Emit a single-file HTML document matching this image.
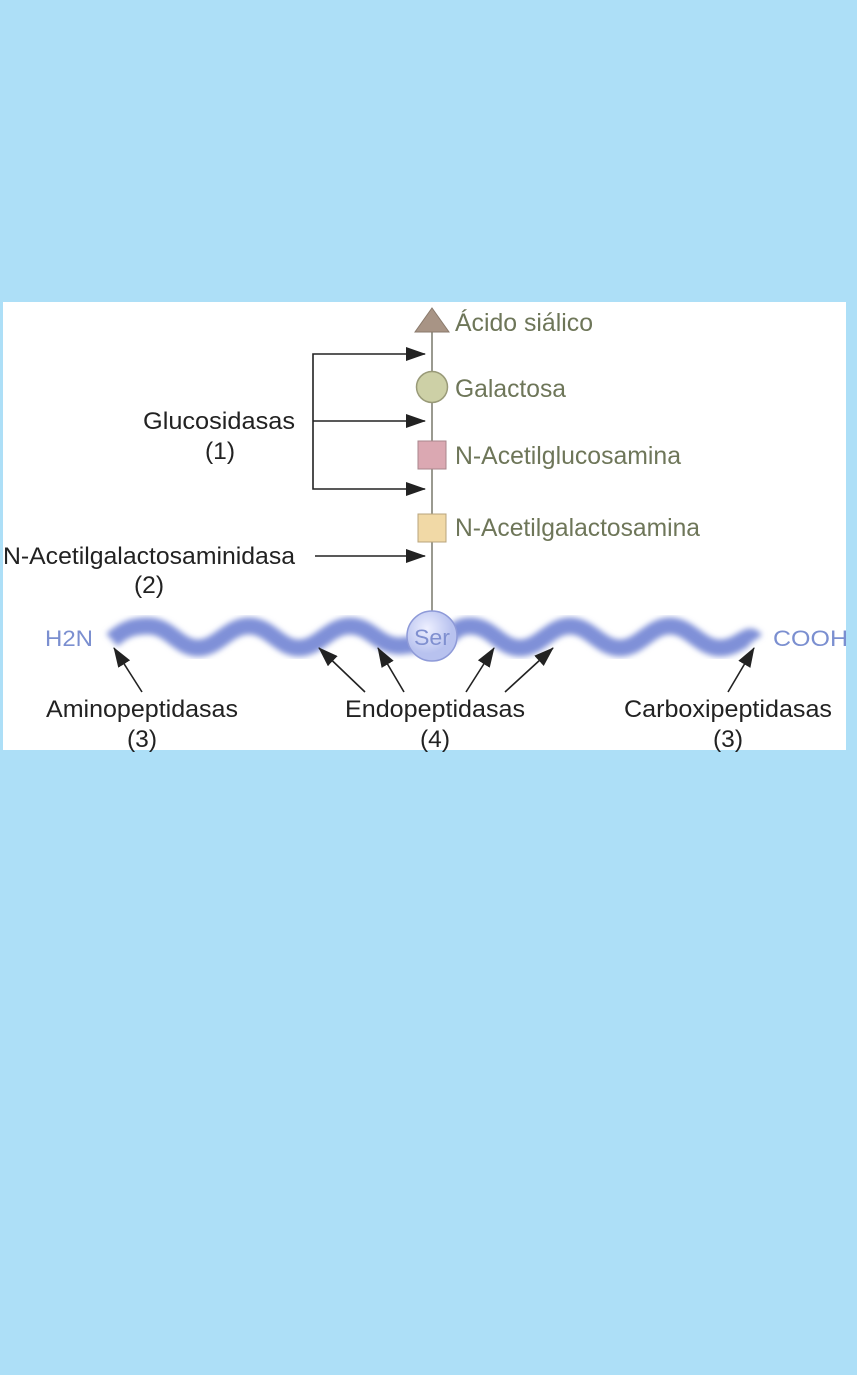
<!DOCTYPE html>
<html><head><meta charset="utf-8"><style>
body{margin:0;background:#addff7;width:857px;height:1375px;overflow:hidden}
svg{position:absolute;left:0;top:0}
text{font-family:"Liberation Sans",sans-serif}
</style></head><body>
<svg width="857" height="1375" viewBox="0 0 857 1375">
<defs>
<marker id="b" markerWidth="20" markerHeight="14" refX="19" refY="7" orient="auto" markerUnits="userSpaceOnUse"><path d="M0,0 L20,7 L0,14 z" fill="#222"/></marker>
<filter id="bl" x="-5%" y="-50%" width="110%" height="200%"><feGaussianBlur stdDeviation="3"/></filter>
<radialGradient id="g" cx="40%" cy="35%"><stop offset="0" stop-color="#eef0ff"/><stop offset="1" stop-color="#b8c2ef"/></radialGradient>
</defs>
<rect x="3" y="302" width="843" height="448" fill="#fff"/>
<line x1="432" y1="320" x2="432" y2="612" stroke="#9a9a90" stroke-width="2"/>
<polygon points="432,308 449,332 415,332" fill="#a89485" stroke="#8a7a6c"/>
<circle cx="432" cy="387" r="15.5" fill="#cdd0a6" stroke="#999a78" stroke-width="1.5"/>
<rect x="418" y="441" width="28" height="28" fill="#dba8b2" stroke="#a8868c"/>
<rect x="418" y="514" width="28" height="28" fill="#f1d9a6" stroke="#b8a47c"/>
<g fill="#6e7659" font-size="25">
<text x="455" y="331" textLength="138" lengthAdjust="spacingAndGlyphs">Ácido siálico</text>
<text x="455" y="397" textLength="111" lengthAdjust="spacingAndGlyphs">Galactosa</text>
<text x="455" y="464" textLength="226" lengthAdjust="spacingAndGlyphs">N-Acetilglucosamina</text>
<text x="455" y="536" textLength="245" lengthAdjust="spacingAndGlyphs">N-Acetilgalactosamina</text>
</g>
<g stroke="#222" stroke-width="1.6" fill="none">
<path d="M313,421 V354 H425" marker-end="url(#b)"/>
<path d="M313,421 V489 H425" marker-end="url(#b)"/>
<path d="M313,421 H425" marker-end="url(#b)"/>
<path d="M315,556 H425" marker-end="url(#b)"/>
</g>
<g fill="#222" font-size="24" text-anchor="middle">
<text x="219" y="429" textLength="152" lengthAdjust="spacingAndGlyphs">Glucosidasas</text>
<text x="220" y="459" textLength="30" lengthAdjust="spacingAndGlyphs">(1)</text>
<text x="149" y="564" textLength="292" lengthAdjust="spacingAndGlyphs">N-Acetilgalactosaminidasa</text>
<text x="149" y="593" textLength="30" lengthAdjust="spacingAndGlyphs">(2)</text>
<text x="142" y="717" textLength="192" lengthAdjust="spacingAndGlyphs">Aminopeptidasas</text>
<text x="142" y="747" textLength="30" lengthAdjust="spacingAndGlyphs">(3)</text>
<text x="435" y="717" textLength="180" lengthAdjust="spacingAndGlyphs">Endopeptidasas</text>
<text x="435" y="747" textLength="30" lengthAdjust="spacingAndGlyphs">(4)</text>
<text x="728" y="717" textLength="208" lengthAdjust="spacingAndGlyphs">Carboxipeptidasas</text>
<text x="728" y="747" textLength="30" lengthAdjust="spacingAndGlyphs">(3)</text>
</g>
<path d="M112,640 C125,628 135,626 148,626 C170,626 178,648 198,648 S228,626 249,626 S279,648 299,648 S329,626 350,626 S378,646 400,646 L420,644 M445,640 C455,630 460,626 470,626 C492,626 500,648 520,648 S550,626 570,626 S600,648 620,648 S650,626 670,626 S700,648 720,648 S748,630 755,640" stroke="#7f90d8" stroke-width="17" fill="none" filter="url(#bl)"/>
<circle cx="432" cy="636" r="25" fill="url(#g)" stroke="#8e9ad8" stroke-width="1.5"/>
<text x="432" y="645" font-size="22" fill="#8090d0" text-anchor="middle" textLength="36" lengthAdjust="spacingAndGlyphs">Ser</text>
<text x="45" y="646" font-size="22" fill="#7b8fd0" textLength="48" lengthAdjust="spacingAndGlyphs">H2N</text>
<text x="773" y="646" font-size="22" fill="#7b8fd0" textLength="75" lengthAdjust="spacingAndGlyphs">COOH</text>
<g stroke="#222" stroke-width="1.6">
<line x1="142" y1="692" x2="114" y2="648" marker-end="url(#b)"/>
<line x1="365" y1="692" x2="319" y2="648" marker-end="url(#b)"/>
<line x1="404" y1="692" x2="378" y2="648" marker-end="url(#b)"/>
<line x1="466" y1="692" x2="494" y2="648" marker-end="url(#b)"/>
<line x1="505" y1="692" x2="553" y2="648" marker-end="url(#b)"/>
<line x1="728" y1="692" x2="754" y2="648" marker-end="url(#b)"/>
</g>
</svg>
</body></html>
